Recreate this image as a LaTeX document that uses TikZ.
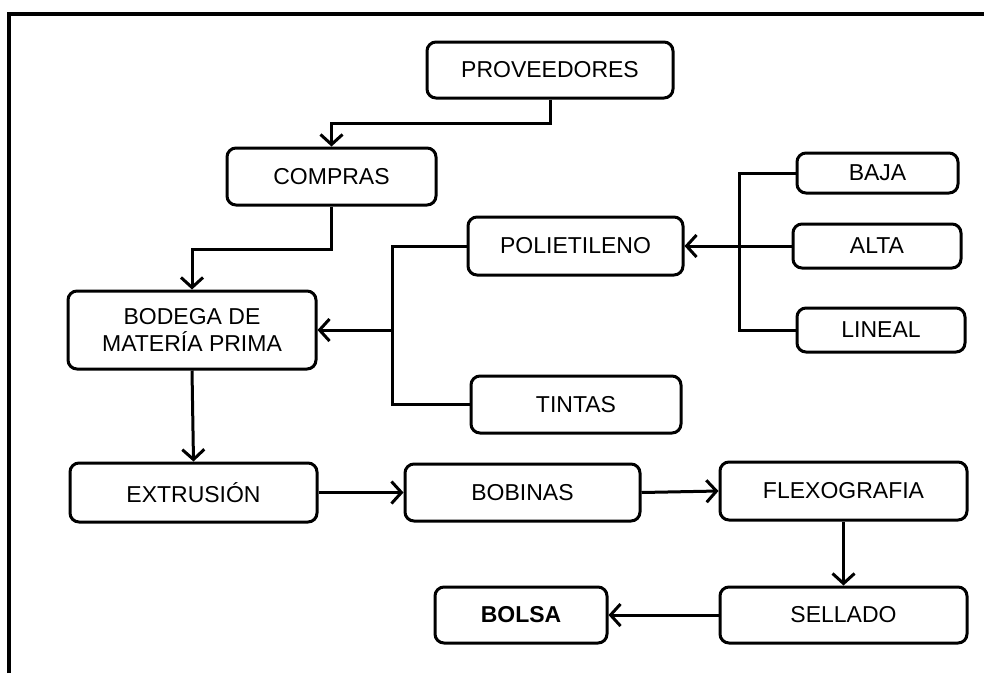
\documentclass[tikz,border=0pt]{standalone}
\usepackage{fontspec}
\setmainfont{Liberation Sans}
\usetikzlibrary{arrows.meta}
\begin{document}
\begin{tikzpicture}[x=1pt,y=-1pt,
  box/.style={draw,line width=3pt,rounded corners=9pt,inner sep=0pt,align=center,
    font=\fontsize{23}{27}\selectfont},
  link/.style={line width=3pt},
  arr/.style={line width=3pt,-{Straight Barb[length=10pt,width=22pt,line width=3pt]}}]
\useasboundingbox (0,0) rectangle (984,673);
\draw[line width=4pt] (8.5,673) -- (8.5,14) -- (984,14);
\node[box,minimum width=246pt,minimum height=56pt] (prov) at (550,70) {PROVEEDORES};
\node[box,minimum width=209pt,minimum height=57pt] (comp) at (331.5,176.5) {COMPRAS};
\node[box,minimum width=248pt,minimum height=78pt] (bod) at (192,330) {BODEGA DE\\MATERÍA PRIMA};
\node[box,minimum width=215pt,minimum height=58pt] (poli) at (575.5,246) {POLIETILENO};
\node[box,minimum width=210pt,minimum height=57pt] (tint) at (576,404.5) {TINTAS};
\node[box,minimum width=161pt,minimum height=40pt] (baja) at (877.5,173) {BAJA};
\node[box,minimum width=168pt,minimum height=44pt] (alta) at (877,246) {ALTA};
\node[box,minimum width=168pt,minimum height=44pt] (lin) at (881,330) {LINEAL};
\node[box,minimum width=247pt,minimum height=59pt] (ext) at (193.5,492.5) {EXTRUSIÓN};
\node[box,minimum width=235pt,minimum height=57pt] (bob) at (522.5,492.5) {BOBINAS};
\node[box,minimum width=247pt,minimum height=58pt] (flex) at (843.5,491) {FLEXOGRAFIA};
\node[box,minimum width=247pt,minimum height=56pt] (sell) at (843.5,615) {SELLADO};
\node[box,minimum width=172pt,minimum height=56pt] (bolsa) at (521,615) {\textbf{BOLSA}};
\coordinate (j1) at (392,330);
\coordinate (j2) at (739,246);
\draw[arr] (prov.south) -- ++(0,24) -| (comp.north);
\draw[arr] (comp.south) -- ++(0,43) -| (bod.north);
\draw[link] (poli.west) -| (j1);
\draw[link] (tint.west) -| (j1);
\draw[arr] (j1) -- (bod.east);
\draw[link] (baja.west) -| (j2);
\draw[link] (lin.west) -| (j2);
\draw[link] (alta.west) -- (j2);
\draw[arr] (j2) -- (poli.east);
\draw[arr] (bod.south) -- (ext.north);
\draw[arr] (ext.east) -- (bob.west);
\draw[arr] (bob.east) -- (flex.west);
\draw[arr] (flex.south) -- (sell.north);
\draw[arr] (sell.west) -- (bolsa.east);
\end{tikzpicture}
\end{document}
